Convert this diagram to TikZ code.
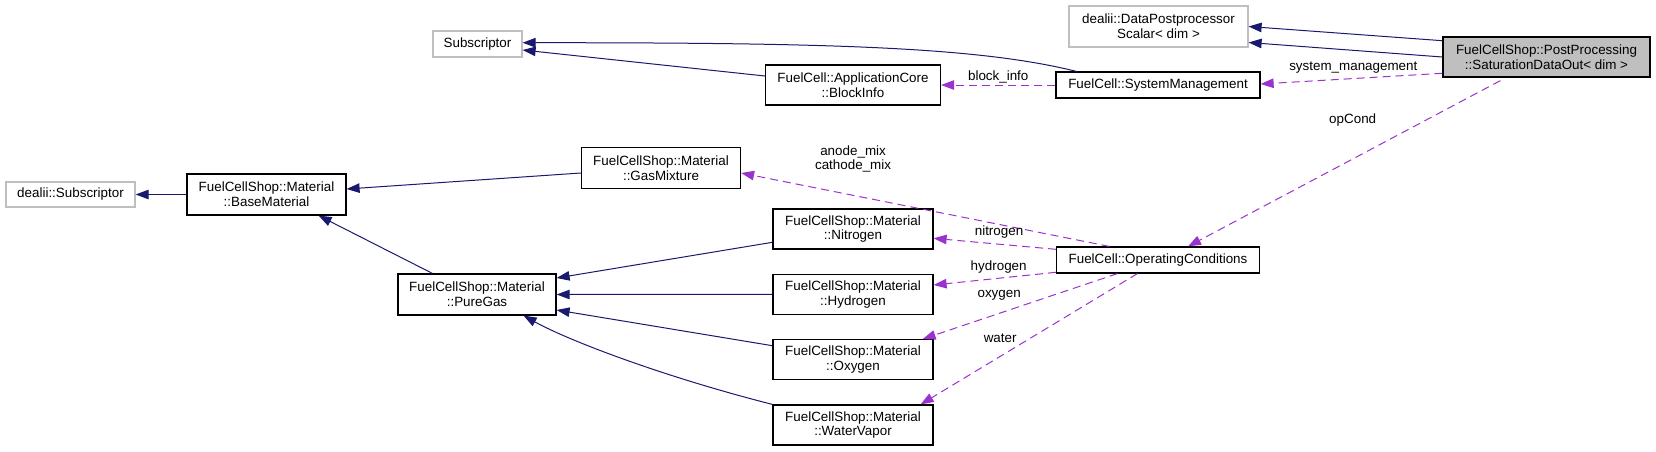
\documentclass[tikz,border=0pt]{standalone}
\usepackage{fontspec}
\setmainfont{Liberation Sans}
\usepackage{tikz}
\usetikzlibrary{arrows.meta,calc}
\definecolor{edgeblue}{HTML}{191970}
\definecolor{edgepurple}{HTML}{9A32CD}
\definecolor{boxgray}{HTML}{BFBFBF}

\begin{document}
\begin{tikzpicture}[x=1pt,y=-1pt,font=\fontsize{13.4}{14.6}\selectfont,
  cls/.style={draw,line width=1.2pt,inner sep=0pt,align=center,
    minimum width=160pt,minimum height=40pt},
  ext/.style={cls,draw=boxgray},
  inh/.style={edgeblue,line width=1pt,-{Triangle[length=13pt,width=9.5pt]}},
  use/.style={edgepurple,line width=1pt,dash pattern=on 8pt off 5pt,
    -{Triangle[length=13pt,width=9.5pt]}},
  lbl/.style={text=black,inner sep=0pt,align=center}]
  \useasboundingbox (0,0) rectangle (1656,451);

  % Classes
  \node[cls,fill=boxgray,minimum width=207pt] (sdo) at (1546.5,57)
    {FuelCellShop::PostProcessing\\::SaturationDataOut< dim >};
  \node[ext,minimum width=179pt,minimum height=41pt] (dpp) at (1158.5,26.5)
    {dealii::DataPostprocessor\\Scalar< dim >};
  \node[cls,minimum width=204pt,minimum height=26pt] (sysman) at (1158,85)
    {FuelCell::SystemManagement};
  \node[cls,minimum width=175pt] (block) at (853,85)
    {FuelCell::ApplicationCore\\::BlockInfo};
  \node[ext,minimum width=89pt,minimum height=26pt] (sub) at (477.5,44)
    {Subscriptor};
  \node[cls,minimum width=159pt,minimum height=41pt] (gasmix) at (661,168)
    {FuelCellShop::Material\\::GasMixture};
  \node[cls,minimum width=159pt,minimum height=41pt] (base) at (266.5,194.5)
    {FuelCellShop::Material\\::BaseMaterial};
  \node[ext,minimum width=129pt,minimum height=25pt] (dsub) at (70.5,194.5)
    {dealii::Subscriptor};
  \node[cls,minimum width=158pt,minimum height=41pt] (puregas) at (477,294.5)
    {FuelCellShop::Material\\::PureGas};
  \node[cls] (nitro) at (853,229) {FuelCellShop::Material\\::Nitrogen};
  \node[cls] (hydro) at (853,294.3) {FuelCellShop::Material\\::Hydrogen};
  \node[cls] (oxy) at (853,359.7) {FuelCellShop::Material\\::Oxygen};
  \node[cls] (water) at (853,425) {FuelCellShop::Material\\::WaterVapor};
  \node[cls,minimum width=203pt,minimum height=26pt] (opcond) at (1158,260)
    {FuelCell::OperatingConditions};

  % Inheritance
  \draw[inh] ($(sdo.west)+(0,-16.3)$) -- (dpp.east);
  \draw[inh] (sdo.west) -- ($(dpp.east)+(0,16)$);
  \draw[inh] ($(sysman.north west)+(21,0)$)
    .. controls +(-100,-25) and +(300,0) .. ($(sub.east)+(0,-1.3)$);
  \draw[inh] ($(block.west)+(0,-9)$) -- ($(sub.east)+(0,6)$);
  \draw[inh] (base.west) -- (dsub.east);
  \draw[inh] ($(gasmix.west)+(0,5)$) -- ($(base.east)+(0,-5.5)$);
  \draw[inh] ($(puregas.north west)+(35,0)$) -- ($(base.south east)+(-28,0)$);
  \draw[inh] ($(nitro.west)+(0,13.3)$) -- ($(puregas.east)+(0,-16.5)$);
  \draw[inh] (hydro.west) -- (puregas.east);
  \draw[inh] ($(oxy.west)+(0,-14)$) -- ($(puregas.east)+(0,15.5)$);
  \draw[inh] (water.north west)
    .. controls +(-110,-28) and +(45,25) .. ($(puregas.south east)+(-33,0)$);

  % Members
  \draw[use] (sysman.west) -- (block.east)
    node[lbl,pos=0.5,yshift=8.3pt] {block\_info};
  \draw[use] ($(sdo.west)+(0,16.3)$) -- ($(sysman.east)+(0,-1)$)
    node[lbl,pos=0.49,yshift=10.8pt] {system\_management};
  \draw[use] ($(sdo.south west)+(58,3)$) -- ($(opcond.north)+(30,0)$)
    node[lbl,pos=0.235,xshift=-74.3pt] {opCond};
  \draw[use] ($(opcond.north west)+(53.5,0)$) -- ($(gasmix.east)+(0,5)$)
    node[lbl,pos=0.696,yshift=36.3pt] {anode\_mix\\cathode\_mix};
  \draw[use] ($(opcond.west)+(0,-10.7)$) -- ($(nitro.east)+(0,9.3)$)
    node[lbl,pos=0.465,yshift=12.5pt] {nitrogen};
  \draw[use] ($(opcond.south west)+(0,-1.3)$) -- ($(hydro.east)+(0,-9.3)$)
    node[lbl,pos=0.468,yshift=11.2pt] {hydrogen};
  \draw[use] ($(opcond.south west)+(61.5,0)$) -- ($(oxy.north east)+(-11,0)$)
    node[lbl,pos=0.607,yshift=17.7pt] {oxygen};
  \draw[use] ($(opcond.south west)+(81.5,0)$) -- ($(water.north east)+(-13,0)$)
    node[lbl,pos=0.633,yshift=18.3pt] {water};
\end{tikzpicture}
\end{document}
